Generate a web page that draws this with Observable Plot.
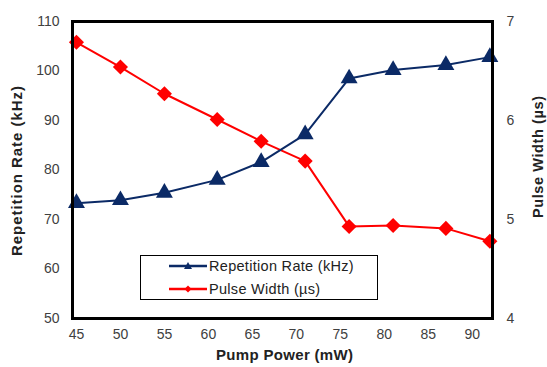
<!DOCTYPE html>
<html><head><meta charset="utf-8">
<script src="https://cdn.jsdelivr.net/npm/d3@7"></script>
<script src="https://cdn.jsdelivr.net/npm/@observablehq/plot@0.6"></script>
<style>
body{margin:0;background:#fff;font-family:"Liberation Sans",Arial,sans-serif;}
#wrap{position:relative;width:547px;height:367px;}
#legend{position:absolute;left:140px;top:255px;width:238px;height:45px;border:1px solid #000;background:#fff;box-sizing:border-box;}
.row{position:absolute;left:27px;height:20px;display:flex;align-items:center;font-size:14.5px;letter-spacing:0.3px;color:#222;}
</style></head><body><div id="wrap"></div>
<script>
const power = [45, 50, 55, 61, 66, 71, 76, 81, 87, 92];
const repRate = [73.3, 73.9, 75.4, 78.0, 81.6, 87.2, 98.5, 100.2, 101.2, 102.8];
const pulseWidth = [6.79, 6.54, 6.27, 6.01, 5.79, 5.59, 4.93, 4.94, 4.91, 4.78];
const xTicks = [45, 50, 55, 60, 65, 70, 75, 80, 85, 90];
const leftTicks = [50, 60, 70, 80, 90, 100, 110];
const rightTicks = [4, 5, 6, 7];
const seriesNames = ["Repetition Rate (kHz)", "Pulse Width (\u00b5s)"];
const xTitle = "Pump Power (mW)";
const colors = ["#0b2a66", "#ff0000"];

// map pulse width (4..7 µs) onto the left scale (50..110 kHz)
const toLeft = v => 50 + (v - 4) * 20;
const fromLeft = v => (v - 50) / 20 + 4;

const rep = power.map((p, i) => ({x: p, y: repRate[i]}));
const pw = power.map((p, i) => ({x: p, y: toLeft(pulseWidth[i])}));

const chart = Plot.plot({
  width: 547, height: 367,
  marginLeft: 72, marginRight: 55, marginTop: 21, marginBottom: 49,
  style: {fontFamily: "Liberation Sans, Arial, sans-serif", fontSize: "14px", color: "#404040", background: "#fff"},
  x: {domain: [44.55, 92.3]},
  y: {domain: [50, 110]},
  marks: [
    Plot.axisX(xTicks, {tickSize: 0, tickPadding: 11, label: null}),
    Plot.axisY(leftTicks, {anchor: "left", tickSize: 0, tickPadding: 13, label: null}),
    Plot.axisY(rightTicks.map(toLeft), {anchor: "right", tickSize: 0, tickPadding: 14, label: null, tickFormat: d => fromLeft(d)}),
    Plot.line(pw, {x: "x", y: "y", stroke: colors[1], strokeWidth: 2}),
    Plot.dot(pw, {x: "x", y: "y", symbol: d3.symbolDiamond2, r: 6.8, fill: colors[1], stroke: "none"}),
    Plot.line(rep, {x: "x", y: "y", stroke: colors[0], strokeWidth: 2}),
    Plot.dot(rep, {x: "x", y: "y", symbol: "triangle", r: 6.3, fill: colors[0], stroke: "none"}),
    Plot.frame({stroke: "#000", strokeWidth: 3}),
    Plot.text([seriesNames[0]], {frameAnchor: "left", textAnchor: "middle", lineAnchor: "middle", dx: -55, dy: 1, rotate: -90, text: d => d, fontWeight: "bold", fontSize: 15, fill: "#222"}),
    Plot.text([seriesNames[1]], {frameAnchor: "right", textAnchor: "middle", lineAnchor: "middle", dx: 46, dy: -13, rotate: -90, text: d => d, fontWeight: "bold", fontSize: 14.5, fill: "#222"}),
    Plot.text([xTitle], {frameAnchor: "bottom", textAnchor: "middle", dx: 2, dy: 41, text: d => d, fontWeight: "bold", fontSize: 15, fill: "#222"})
  ]
});
// stretch titles to the reference's spacing
const lengths = {[seriesNames[0]]: 170, [seriesNames[1]]: 122, [xTitle]: 137};
chart.querySelectorAll("text").forEach(t => {
  const L = lengths[t.textContent];
  if (L) { t.setAttribute("textLength", L); t.setAttribute("lengthAdjust", "spacing"); }
});
const wrap = document.getElementById("wrap");
wrap.appendChild(chart);

// legend
const legend = document.createElement("div");
legend.id = "legend";
const markers = [
  `<path d="M0,-4L4,3L-4,3Z" transform="translate(20,10)" fill="${colors[0]}"/>`,
  `<path d="M0,-3.5L3.5,0L0,3.5L-3.5,0Z" transform="translate(20,10)" fill="${colors[1]}"/>`
];
seriesNames.forEach((name, i) => {
  const row = document.createElement("div");
  row.className = "row";
  row.style.top = (i === 0 ? 0 : 23) + "px";
  row.innerHTML = `<svg width="41" height="20"><line x1="1" x2="39" y1="10" y2="10" stroke="${colors[i]}" stroke-width="2.5"/>${markers[i]}</svg><span>${name}</span>`;
  legend.appendChild(row);
});
wrap.appendChild(legend);
</script>
</body></html>
